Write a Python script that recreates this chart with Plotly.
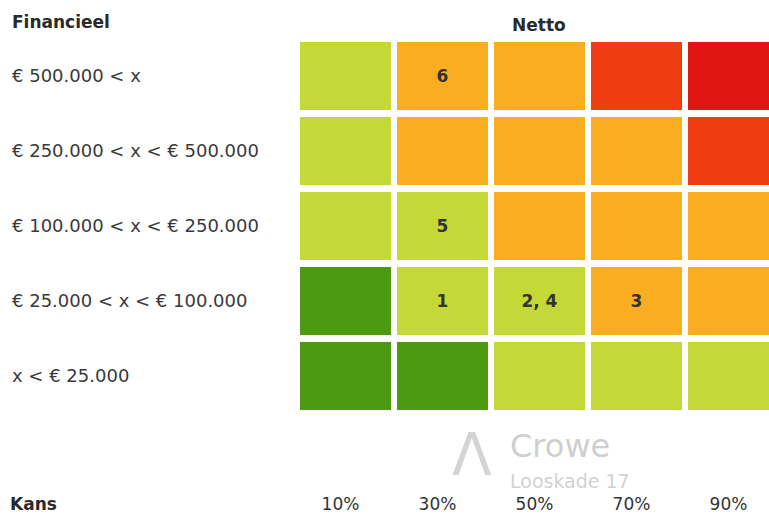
import plotly.graph_objects as go

# ---- data ----
kans_labels = ["10%", "30%", "50%", "70%", "90%"]
financieel_labels = [
    "€ 500.000 < x",
    "€ 250.000 < x < € 500.000",
    "€ 100.000 < x < € 250.000",
    "€ 25.000 < x < € 100.000",
    "x < € 25.000",
]
# risk level per cell (0 = dark green, 1 = light green, 2 = orange, 3 = red-orange, 4 = red)
risk_levels = [
    [1, 2, 2, 3, 4],
    [1, 2, 2, 2, 3],
    [1, 1, 2, 2, 2],
    [0, 1, 1, 2, 2],
    [0, 0, 1, 1, 1],
]
risk_numbers = [
    ["", "6", "", "", ""],
    ["", "", "", "", ""],
    ["", "5", "", "", ""],
    ["", "1", "2, 4", "3", ""],
    ["", "", "", "", ""],
]
level_colors = ["#4b9a12", "#c4d838", "#fbad22", "#ee3d10", "#e01614"]

# ---- layout constants ----
W, H = 769, 517
ML, MR, MT, MB = 297, 0, 38, 104
plot_w = W - ML - MR
plot_h = H - MT - MB
COL_PX = 97          # column pitch in pixels
ROW_PX = plot_h / len(financieel_labels)
XGAP_PX, YGAP_PX = 6, 7
bar_w = 1 - XGAP_PX / COL_PX
gap_y = YGAP_PX / ROW_PX


def px_x(px):
    return (px - ML) / plot_w


def px_y(py):
    return (H - MB - py) / plot_h


font_main = "DejaVu Sans"

fig = go.Figure()
for r, row_levels in enumerate(risk_levels):
    fig.add_trace(
        go.Bar(
            x=kans_labels,
            y=[1 - gap_y] * len(kans_labels),
            base=[r - 0.5 + gap_y / 2] * len(kans_labels),
            width=bar_w,
            marker=dict(color=[level_colors[l] for l in row_levels], line=dict(width=0)),
            text=risk_numbers[r],
            textposition="inside",
            insidetextanchor="middle",
            textangle=0,
            insidetextfont=dict(family=font_main, size=17, color="#333333", weight="bold"),
            hoverinfo="skip",
            showlegend=False,
        )
    )

annotations = []
for i, lab in enumerate(financieel_labels):
    annotations.append(
        dict(
            text=lab, xref="paper", yref="y", x=px_x(10), y=i,
            xanchor="left", yanchor="middle", showarrow=False,
            font=dict(family=font_main, size=18, color="#3a3a3a"),
        )
    )
annotations += [
    dict(text="<b>Financieel</b>", xref="paper", yref="paper", x=px_x(10), y=px_y(22),
         xanchor="left", yanchor="middle", showarrow=False,
         font=dict(family=font_main, size=17, color="#2a2a2a")),
    dict(text="<b>Netto</b>", xref="paper", yref="paper", x=px_x(539), y=px_y(25),
         xanchor="center", yanchor="middle", showarrow=False,
         font=dict(family=font_main, size=17, color="#2a2a2a")),
    dict(text="<b>Kans</b>", xref="paper", yref="paper", x=px_x(8), y=px_y(504),
         xanchor="left", yanchor="middle", showarrow=False,
         font=dict(family=font_main, size=17, color="#2a2a2a")),
    # faint scanned stamp
    dict(text="Λ", xref="paper", yref="paper", x=px_x(472), y=px_y(455),
         xanchor="center", yanchor="middle", showarrow=False,
         font=dict(family="DejaVu Sans", size=58, color="#d4d4d4")),
    dict(text="Crowe", xref="paper", yref="paper", x=px_x(508), y=px_y(446),
         xanchor="left", yanchor="middle", showarrow=False,
         font=dict(family="DejaVu Sans", size=32, color="#cfcfcf")),
    dict(text="Looskade 17", xref="paper", yref="paper", x=px_x(508), y=px_y(481),
         xanchor="left", yanchor="middle", showarrow=False,
         font=dict(family="DejaVu Sans", size=19, color="#d2d2d2")),
]

fig.update_layout(
    width=W, height=H,
    margin=dict(l=ML, r=MR, t=MT, b=MB, pad=0),
    paper_bgcolor="white", plot_bgcolor="white",
    annotations=annotations,
    showlegend=False,
    barmode="overlay",
    bargap=0,
)
fig.update_xaxes(
    type="category",
    range=[-0.5, -0.5 + plot_w / COL_PX], showgrid=False, zeroline=False, showline=False,
    ticks="", tickfont=dict(family=font_main, size=17, color="#333333"),
    ticklabelstandoff=79, ticklabelshift=-5, fixedrange=True,
)
fig.update_yaxes(
    range=[len(financieel_labels) - 0.5, -0.5], showgrid=False, zeroline=False, showline=False,
    showticklabels=False, ticks="", fixedrange=True,
)

fig.write_html(
    "out.html",
    config={"displayModeBar": False},
    post_script="document.body.style.margin='0';document.body.style.overflow='hidden';",
)
